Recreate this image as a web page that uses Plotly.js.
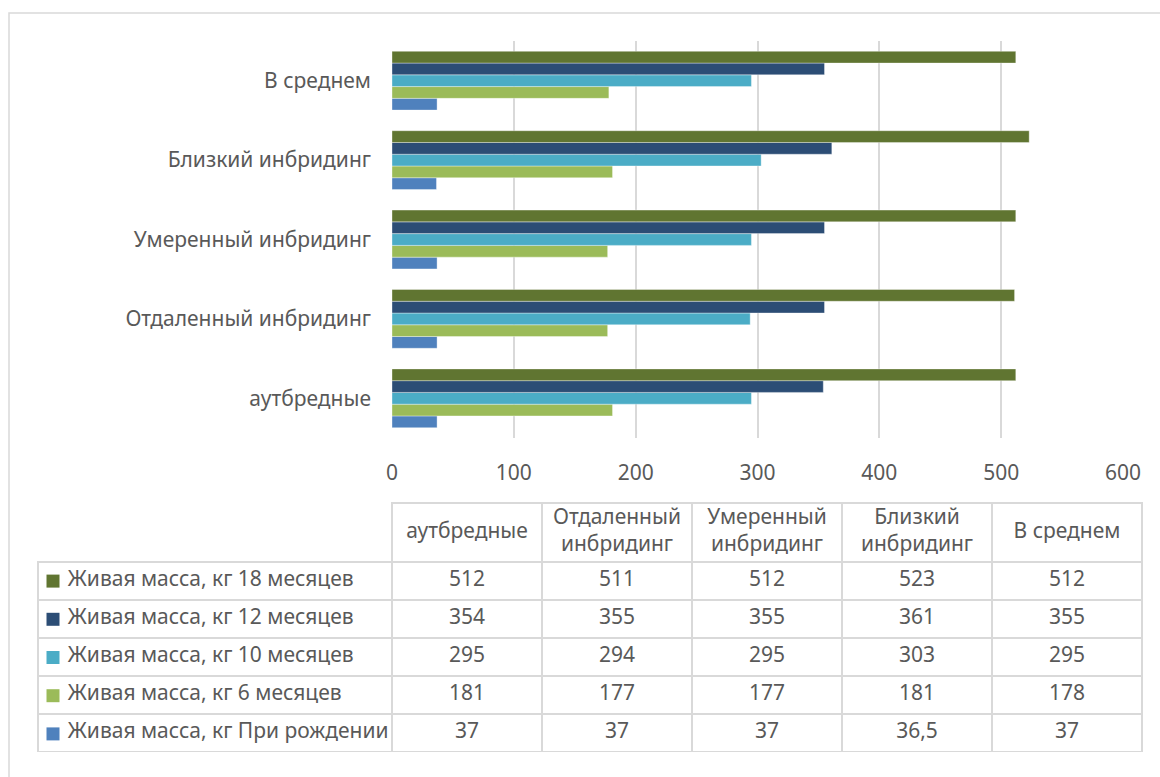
<!DOCTYPE html>
<html>
<head>
<meta charset="utf-8">
<script src="https://cdn.plot.ly/plotly-3.0.1.min.js"></script>
<style>html,body{margin:0;padding:0;background:#fff;}#chart{width:1160px;height:777px;}</style>
</head>
<body>
<div id="chart"></div>
<script>
// ---- data ----
var categories = ["аутбредные", "Отдаленный инбридинг", "Умеренный инбридинг", "Близкий инбридинг", "В среднем"];
var seriesNames = [
  "Живая масса, кг 18 месяцев",
  "Живая масса, кг 12 месяцев",
  "Живая масса, кг 10 месяцев",
  "Живая масса, кг 6 месяцев",
  "Живая масса, кг При рождении"
];
var mass18 = [512, 511, 512, 523, 512];
var mass12 = [354, 355, 355, 361, 355];
var mass10 = [295, 294, 295, 303, 295];
var mass6 = [181, 177, 177, 181, 178];
var massBirth = [37, 37, 37, 36.5, 37];
var xTicks = [0, 100, 200, 300, 400, 500, 600];

// ---- styles ----
var seriesColors = ["#607531", "#2c4d75", "#4bacc6", "#9bbb59", "#4f81bd"];
var seriesValues = [mass18, mass12, mass10, mass6, massBirth];
var W = 1160, H = 777;
var FONT = "Noto Sans, Open Sans, DejaVu Sans, sans-serif";
var TXT = "#595959";
var GRID = "#d9d9d9";
var NB = "\u00a0";

var traces = [];
// bars: bottom-up so "При рождении" is lowest in each group
for (var i = seriesNames.length - 1; i >= 0; i--) {
  traces.push({
    type: "bar",
    orientation: "h",
    name: seriesNames[i],
    y: categories,
    x: seriesValues[i],
    marker: {color: seriesColors[i], line: {color: "rgba(255,255,255,0.6)", width: 0.6}},
    xaxis: "x", yaxis: "y",
    showlegend: false
  });
}

// data table (grid, legend names and values)
function fmt(v) { return String(v).replace(".", ","); }
var nameCol = seriesNames.map(function (n) {
  return NB + NB + NB + NB + n.replace(/ /g, NB);
});
var cellCols = [nameCol];
for (var j = 0; j < categories.length; j++) {
  cellCols.push(seriesValues.map(function (s) { return fmt(s[j]); }));
}
traces.push({
  type: "table",
  domain: {x: [38 / W, 1142 / W], y: [1 - 753 / H, 1 - 503 / H]},
  columnwidth: [354, 150, 150, 150, 150, 150],
  header: {
    values: [""].concat(categories.map(function () { return ""; })),
    height: 59,
    line: {color: ["rgba(0,0,0,0)", GRID, GRID, GRID, GRID, GRID], width: 1.5},
    fill: {color: "rgba(0,0,0,0)"},
    font: {family: FONT, size: 21, color: TXT}
  },
  cells: {
    values: cellCols,
    height: 38,
    align: ["left", "center", "center", "center", "center", "center"],
    line: {color: GRID, width: 1.5},
    fill: {color: "rgba(0,0,0,0)"},
    font: {family: FONT, size: 21, color: TXT}
  }
});

// table header labels, centred in the header cells via a category axis
traces.push({
  type: "scatter", mode: "text",
  x: categories,
  y: categories.map(function () { return 0; }),
  text: categories.map(function (c) {
    return c.indexOf("инбридинг") >= 0 ? c.replace(" ", "<br>") : c;
  }),
  textposition: "middle center",
  textfont: {family: FONT, size: 21, color: TXT},
  xaxis: "x2", yaxis: "y2",
  hoverinfo: "skip", showlegend: false, cliponaxis: false
});

// legend keys inside the table's first column
traces.push({
  type: "scatter", mode: "markers",
  x: seriesNames.map(function () { return 15; }),
  y: seriesNames,
  marker: {symbol: "square", size: 13, color: seriesColors},
  xaxis: "x3", yaxis: "y3",
  hoverinfo: "skip", showlegend: false, cliponaxis: false
});

var hidden = {visible: false, fixedrange: true, showgrid: false, zeroline: false};

var layout = {
  width: W, height: H,
  margin: {l: 0, r: 0, t: 0, b: 0},
  paper_bgcolor: "#ffffff",
  plot_bgcolor: "rgba(0,0,0,0)",
  barmode: "group",
  bargap: 0.26,
  bargroupgap: 0,
  showlegend: false,
  font: {family: FONT, size: 21, color: TXT},
  xaxis: {
    domain: [392 / W, 1123 / W],
    range: [0, 600],
    tickvals: xTicks,
    ticktext: xTicks.map(String),
    showgrid: true, gridcolor: GRID, gridwidth: 2,
    zeroline: false, showline: false, ticks: "",
    ticklabelstandoff: 20,
    tickfont: {family: FONT, size: 21, color: TXT},
    fixedrange: true, anchor: "y"
  },
  yaxis: {
    domain: [1 - 438 / H, 1 - 41 / H],
    type: "category",
    categoryorder: "array",
    categoryarray: categories,
    showgrid: false, zeroline: false, showline: false, ticks: "",
    ticklabelstandoff: 20,
    tickfont: {family: FONT, size: 21, color: TXT},
    fixedrange: true, anchor: "x"
  },
  xaxis2: Object.assign({}, hidden, {
    domain: [392 / W, 1142 / W], anchor: "y2",
    type: "category", categoryorder: "array", categoryarray: categories,
    range: [-0.5, categories.length - 0.5], autorange: false
  }),
  yaxis2: Object.assign({}, hidden, {
    domain: [1 - 562 / H, 1 - 503 / H], anchor: "x2", range: [-1, 1], autorange: false
  }),
  xaxis3: Object.assign({}, hidden, {
    domain: [38 / W, 392 / W], anchor: "y3", range: [0, 354], autorange: false
  }),
  yaxis3: Object.assign({}, hidden, {
    domain: [1 - 753 / H, 1 - 562 / H], anchor: "x3",
    type: "category", categoryorder: "array", categoryarray: seriesNames.slice().reverse(),
    range: [-0.5, seriesNames.length - 0.5], autorange: false
  }),
  shapes: [{
    type: "rect", xref: "paper", yref: "paper",
    x0: 9 / W, x1: 1.02, y0: -0.02, y1: 1 - 13 / H,
    line: {color: GRID, width: 1.5}, fillcolor: "rgba(0,0,0,0)", layer: "below"
  }]
};

Plotly.newPlot("chart", traces, layout, {displayModeBar: false, staticPlot: true});
</script>
</body>
</html>
